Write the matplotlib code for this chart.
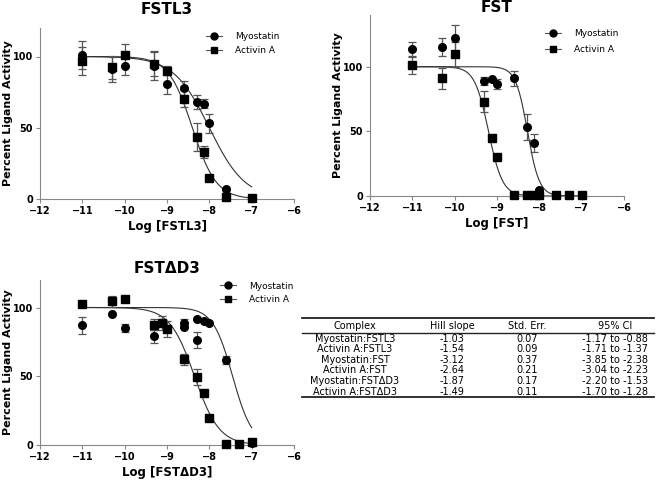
import numpy as np
import matplotlib
matplotlib.use("Agg")
import matplotlib.pyplot as plt
from matplotlib.lines import Line2D

# ---- data ----
# FSTL3 panel
fstl3_x = [-11, -10.3, -10, -9.3, -9, -8.6, -8.3, -8.12, -8, -7.6, -7]
fstl3_myo = [101, 91, 93, 93.5, 80.5, 78, 68, 67, 53, 7, 1]
fstl3_myo_err = [10, 9, 6, 10, 7, 5, 5, 3, 7, 0, 0]
fstl3_act = [97, 92.5, 101, 95, 90, 70.5, 43.5, 33, 14.5, 1.5, 1]
fstl3_act_err = [10, 8, 8, 9, 3, 6, 10, 4, 0, 0, 0]

# FST panel
fst_x = [-11, -10.3, -10, -9.3, -9.12, -9, -8.6, -8.3, -8.12, -8, -7.6, -7.3, -7]
fst_myo = [113.5, 115, 122.5, 89, 90.5, 86.5, 91, 53.5, 41, 5, 0.8, 0.8, 0.8]
fst_myo_err = [6, 7, 10, 3, 0, 4, 6, 10, 7, 0, 0, 0, 0]
fst_act = [101.5, 91, 109.5, 73, 44.5, 30.5, 1, 1, 1, 1, 1, 1, 1]
fst_act_err = [7, 8, 10, 8, 0, 0, 0, 0, 0, 0, 0, 0, 0]

# FST-deltaD3 panel
d3_myo_x = [-11, -10.3, -10, -9.3, -8.6, -8.6, -8.3, -8.3, -8.12, -8, -7.6, -7]
d3_myo = [87, 95.5, 85, 79, 88.5, 85.5, 92, 76.5, 90, 89, 62, 1.5]
d3_myo_err = [6, 0, 3, 5, 3, 0, 0, 6, 0, 0, 3, 0]
d3_act_x = [-11, -10.3, -10, -9.3, -9.12, -9, -8.6, -8.3, -8.12, -8, -7.6, -7.3, -7]
d3_act = [102.5, 104.5, 106.5, 87.5, 89, 84.5, 62.5, 49.5, 38, 20, 1, 1, 2.2]
d3_act_err = [0, 4, 0, 4, 5, 6, 4, 6, 0, 0, 0, 0, 0]

# estimated log IC50 of the fitted curves (myostatin, activin)
log_ic50 = {"FSTL3": (-8.0, -8.4), "FST": (-8.28, -9.2), "FSTΔD3": (-7.45, -8.35)}

# table
table_cols = ["Complex", "Hill slope", "Std. Err.", "95% CI"]
complexes = ["Myostatin:FSTL3", "Activin A:FSTL3", "Myostatin:FST",
             "Activin A:FST", "Myostatin:FSTΔD3", "Activin A:FSTΔD3"]
hill = [-1.03, -1.54, -3.12, -2.64, -1.87, -1.49]
std_err = [0.07, 0.09, 0.37, 0.21, 0.17, 0.11]
ci_low = [-1.17, -1.71, -3.85, -3.04, -2.20, -1.70]
ci_high = [-0.88, -1.37, -2.38, -2.23, -1.53, -1.28]

W, H = 660, 482


def px(x, y):
    return x / W, 1 - y / H


def hill_curve(x, ic50, slope):
    return 100 / (1 + 10 ** ((x - ic50) * -slope))


fig = plt.figure(figsize=(6.6, 4.82), dpi=100)

panels = [
    ("FSTL3", [40, 28, 254, 171], fstl3_x, fstl3_myo, fstl3_myo_err, fstl3_x, fstl3_act, fstl3_act_err,
     (hill[0], hill[1]), 120, 10, (0.654, 0.975), 0.55, -0.105),
    ("FST", [370, 15, 254, 181], fst_x, fst_myo, fst_myo_err, fst_x, fst_act, fst_act_err,
     (hill[2], hill[3]), 140, 1.5, (0.689, 0.92), 0.75, -0.106),
    ("FSTΔD3", [40, 280, 254, 165], d3_myo_x, d3_myo, d3_myo_err, d3_act_x, d3_act, d3_act_err,
     (hill[4], hill[5]), 120, 5, (0.709, 0.99), 0.45, -0.105),
]

for (name, box, mx, my, me, axx, ay, ae, slopes, ymax, tpad, leg_xy, lspace, ylab_x) in panels:
    l, t, w, h = box
    ax = fig.add_axes([l / W, 1 - (t + h) / H, w / W, h / H])
    xs = np.linspace(-11, -7, 300)
    ic_m, ic_a = log_ic50[name]
    ax.plot(xs, hill_curve(xs, ic_m, slopes[0]), color="#333333", lw=0.8)
    ax.plot(xs, hill_curve(xs, ic_a, slopes[1]), color="#333333", lw=0.8)

    ax.errorbar(axx, ay, yerr=ae, fmt="none", ecolor="#555555", elinewidth=0.9,
                capsize=3, capthick=0.9, clip_on=False)
    ax.errorbar(mx, my, yerr=me, fmt="none", ecolor="#555555", elinewidth=0.9,
                capsize=3, capthick=0.9, clip_on=False)
    ax.plot(axx, ay, "s", color="black", ms=5.5, clip_on=False, zorder=4)
    ax.plot(mx, my, "o", color="black", ms=5.5, clip_on=False, zorder=5)

    ax.set_xlim(-12, -6)
    ax.set_ylim(0, ymax)
    ax.set_xticks(range(-12, -5))
    ax.set_yticks([0, 50, 100])
    for s in ["top", "right"]:
        ax.spines[s].set_visible(False)
    for s in ["left", "bottom"]:
        ax.spines[s].set_color("#888888")
    ax.tick_params(direction="out", length=3, width=0.8, color="#888888",
                   labelsize=7, pad=2)
    for lab in ax.get_xticklabels() + ax.get_yticklabels():
        lab.set_fontweight("bold")

    ax.set_title(name, fontsize=11, fontweight="bold", pad=tpad)
    ax.set_xlabel("Log [" + name + "]", fontsize=8.5, fontweight="bold", labelpad=3)
    ax.set_ylabel("Percent Ligand Activity", fontsize=8, fontweight="bold")
    ax.yaxis.set_label_coords(ylab_x, 0.5)

    handles = [Line2D([], [], color="#555555", lw=0.8, marker="o", ms=5, mfc="black", mec="black"),
               Line2D([], [], color="#555555", lw=0.8, marker="s", ms=5, mfc="black", mec="black")]
    ax.legend(handles, ["Myostatin", "Activin A"], loc="upper left", bbox_to_anchor=leg_xy,
              frameon=False, fontsize=6.5, handlelength=1.8, handletextpad=1.4,
              borderpad=0, borderaxespad=0, labelspacing=lspace)

# ---- table ----
col_x = [355, 452, 527, 615]
x0, x1 = 302, 654
for y, lw in [(318, 1.3), (333, 1.0), (397, 1.3)]:
    fig.add_artist(Line2D([x0 / W, x1 / W], [1 - y / H, 1 - y / H],
                          transform=fig.transFigure, color="#222222", lw=lw))
for cx, c in zip(col_x, table_cols):
    fig.text(*px(cx, 326), c, ha="center", va="center", fontsize=7)
for i in range(len(complexes)):
    y = 338.5 + i * 10.65
    row = [complexes[i], f"{hill[i]:.2f}", f"{std_err[i]:.2f}",
           f"{ci_low[i]:.2f} to {ci_high[i]:.2f}"]
    for cx, v in zip(col_x, row):
        fig.text(*px(cx, y), v, ha="center", va="center", fontsize=7)

fig.savefig("out.png", dpi=100)
